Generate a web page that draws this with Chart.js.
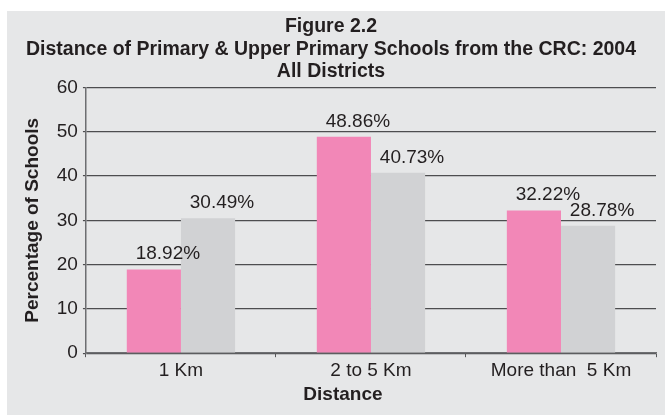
<!DOCTYPE html>
<html>
<head>
<meta charset="utf-8">
<script src="https://cdn.jsdelivr.net/npm/chart.js@4/dist/chart.umd.min.js"></script>
<style>
  html, body { margin: 0; padding: 0; background: #ffffff; }
  #wrap { position: relative; width: 665px; height: 415px; }
</style>
</head>
<body>
<div id="wrap"><canvas id="grafica" width="665" height="415"></canvas></div>
<script>
const categorias = ["1 Km", "2 to 5 Km", "More than  5 Km"];
const primaria = [18.92, 48.86, 32.22];
const primariaSuperior = [30.49, 40.73, 28.78];
const ticksY = [0, 10, 20, 30, 40, 50, 60];
const titulo = [
  "Figure 2.2",
  "Distance of Primary & Upper Primary Schools from the CRC: 2004",
  "All Districts"
];

const fuente = "'Liberation Sans', Arial, sans-serif";
const colorTexto = "#231f20";

// fondo gris del panel
const fondoPanel = {
  id: "fondoPanel",
  beforeDraw(chart) {
    const ctx = chart.ctx;
    ctx.save();
    ctx.fillStyle = "#e6e7e8";
    ctx.fillRect(7, 11, chart.width - 7, chart.height - 11);
    ctx.restore();
  }
};

// etiquetas de porcentaje encima de cada barra
const etiquetas = {
  id: "etiquetas",
  afterDatasetsDraw(chart) {
    const ctx = chart.ctx;
    ctx.save();
    ctx.font = "19px " + fuente;
    ctx.fillStyle = colorTexto;
    ctx.textAlign = "center";
    ctx.textBaseline = "alphabetic";
    chart.data.datasets.forEach((ds, i) => {
      chart.getDatasetMeta(i).data.forEach((bar, j) => {
        ctx.fillText(ds.data[j].toFixed(2) + "%", bar.x + 14, bar.y - 10);
      });
    });
    // titulo del eje x
    const area = chart.chartArea;
    ctx.font = "bold 19px " + fuente;
    ctx.fillText("Distance", (area.left + area.right) / 2 - 28, chart.height - 15);
    ctx.restore();
  }
};

const ctx = document.getElementById("grafica").getContext("2d");
new Chart(ctx, {
  type: "bar",
  data: {
    labels: categorias,
    datasets: [
      { label: "Primary", data: primaria, backgroundColor: "#f287b7" },
      { label: "Upper Primary", data: primariaSuperior, backgroundColor: "#d1d2d4" }
    ]
  },
  options: {
    responsive: false,
    animation: false,
    layout: { padding: { top: 15, left: 6, right: 9, bottom: 31 } },
    datasets: { bar: { categoryPercentage: 0.57, barPercentage: 1.0 } },
    plugins: {
      legend: { display: false },
      tooltip: { enabled: false },
      title: {
        display: true,
        text: titulo,
        color: colorTexto,
        font: { family: fuente, size: 19.5, weight: "bold", lineHeight: 1.17 },
        padding: { top: 0, bottom: 4 }
      }
    },
    scales: {
      x: {
        grid: { drawOnChartArea: false, color: "#58595b", tickLength: 4 },
        border: { color: "#6d6e71", width: 1.5 },
        ticks: { color: colorTexto, font: { family: fuente, size: 19 }, padding: 2 }
      },
      y: {
        min: 0,
        max: 60,
        afterBuildTicks(scale) { scale.ticks = ticksY.map(v => ({ value: v })); },
        grid: { color: "#4d4d4f", lineWidth: 1.2, tickLength: 3 },
        border: { color: "#6d6e71", width: 1.5 },
        ticks: { color: colorTexto, font: { family: fuente, size: 19 }, padding: 5 },
        title: {
          display: true,
          text: "Percentage of Schools",
          color: colorTexto,
          font: { family: fuente, size: 19, weight: "bold" },
          padding: { top: 15, bottom: 8 }
        }
      }
    }
  },
  plugins: [fondoPanel, etiquetas]
});
</script>
</body>
</html>
